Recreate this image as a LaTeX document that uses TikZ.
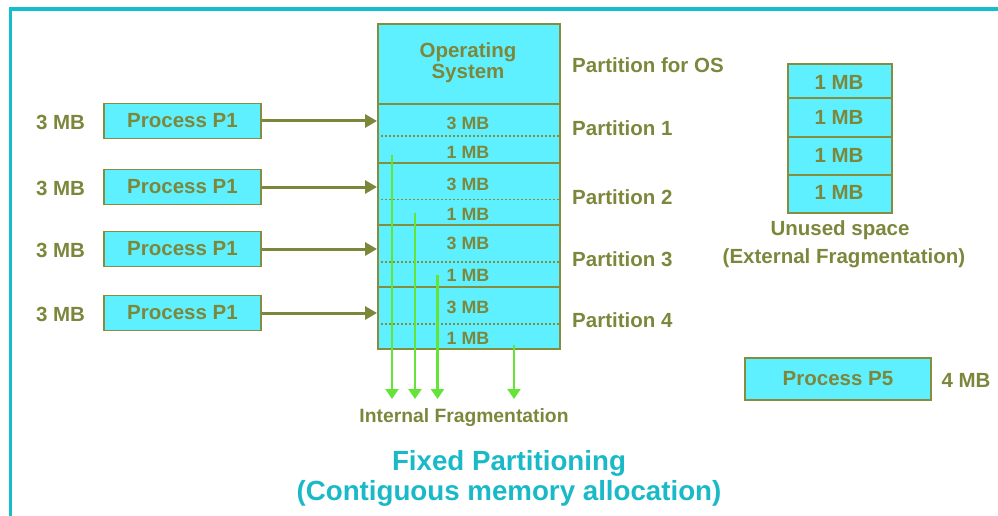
\documentclass[tikz,border=0pt]{standalone}
\usepackage{fontspec}
\setmainfont{Liberation Sans}
\usetikzlibrary{arrows.meta}
\definecolor{olivetxt}{RGB}{125,135,60}
\definecolor{boxline}{RGB}{132,142,62}
\definecolor{cyanfill}{RGB}{95,240,255}
\definecolor{framecol}{RGB}{20,190,205}
\definecolor{titlecol}{RGB}{25,185,200}
\definecolor{fraggreen}{RGB}{100,228,55}
\begin{document}
\begin{tikzpicture}[x=1pt,y=-1pt,
  box/.style={draw=boxline, fill=cyanfill, line width=1.6pt, inner sep=0pt, anchor=north west},
  bigtxt/.style={text=olivetxt, inner sep=0pt, font=\bfseries\fontsize{20.5}{21}\selectfont, align=center},
  memtxt/.style={text=olivetxt, inner sep=0pt, font=\bfseries\fontsize{17.8}{18}\selectfont},
  ttl/.style={text=titlecol, inner sep=0pt, font=\bfseries\fontsize{27.7}{28}\selectfont},
  dotline/.style={draw=boxline, line width=1.1pt, dash pattern=on 2pt off 2pt},
  oarrow/.style={draw=olivetxt, line width=3pt, -{Triangle[length=12pt,width=13pt]}},
  garrow/.style={draw=fraggreen, line width=2.2pt, -{Triangle[length=10pt,width=13pt]}}
]
\useasboundingbox (0,0) rectangle (998,516);
% frame
\draw[framecol, line width=3.5pt] (10.5,516) -- (10.5,9) -- (998,9);

% memory block
\node[box, minimum width=182pt, minimum height=80pt] (os) at (377,23) {};
\node[box, minimum width=182pt, minimum height=59pt] (m1) at (377,103) {};
\node[box, minimum width=182pt, minimum height=62pt] (m2) at (377,162) {};
\node[box, minimum width=182pt, minimum height=62pt] (m3) at (377,224) {};
\node[box, minimum width=182pt, minimum height=62pt] (m4) at (377,286) {};
\node[bigtxt] (ostxt) at (468,63) {Operating\\System};

\draw[dotline] (377,136) -- (559,136);
\draw[dotline] (377,199.5) -- (559,199.5);
\draw[dotline] (377,262) -- (559,262);
\draw[dotline] (377,324) -- (559,324);

\node[memtxt] (m1a) at (468,123) {3 MB};
\node[memtxt] (m1b) at (468,152) {1 MB};
\node[memtxt] (m2a) at (468,184) {3 MB};
\node[memtxt] (m2b) at (468,214) {1 MB};
\node[memtxt] (m3a) at (468,243) {3 MB};
\node[memtxt] (m3b) at (468,275.5) {1 MB};
\node[memtxt] (m4a) at (468,307) {3 MB};
\node[memtxt] (m4b) at (468,338) {1 MB};

% partition labels
\node[bigtxt, anchor=west] (los) at (572,65) {Partition for OS};
\node[bigtxt, anchor=west] (l1) at (572,128) {Partition 1};
\node[bigtxt, anchor=west] (l2) at (572,197) {Partition 2};
\node[bigtxt, anchor=west] (l3) at (572,259) {Partition 3};
\node[bigtxt, anchor=west] (l4) at (572,320) {Partition 4};

% processes
\node[box, anchor=center, minimum width=157pt, minimum height=35pt, bigtxt, text=olivetxt] (pp1) at (182.5,121) {Process P1};
\node[box, anchor=center, minimum width=157pt, minimum height=35pt, bigtxt, text=olivetxt] (pp2) at (182.5,187) {Process P1};
\node[box, anchor=center, minimum width=157pt, minimum height=35pt, bigtxt, text=olivetxt] (pp3) at (182.5,249) {Process P1};
\node[box, anchor=center, minimum width=157pt, minimum height=35pt, bigtxt, text=olivetxt] (pp4) at (182.5,313) {Process P1};
\node[bigtxt] (s1) at (60.5,122) {3 MB};
\node[bigtxt] (s2) at (60.5,188) {3 MB};
\node[bigtxt] (s3) at (60.5,250) {3 MB};
\node[bigtxt] (s4) at (60.5,314) {3 MB};

\draw[oarrow] (pp1.east) -- (pp1.east -| m1.west);
\draw[oarrow] (pp2.east) -- (pp2.east -| m2.west);
\draw[oarrow] (pp3.east) -- (pp3.east -| m3.west);
\draw[oarrow] (pp4.east) -- (pp4.east -| m4.west);

% internal fragmentation arrows
\coordinate (g1s) at (392,155);
\coordinate (g1e) at (392,399);
\coordinate (g2s) at (415,213);
\coordinate (g2e) at (415,399);
\coordinate (g3s) at (437.5,275);
\coordinate (g3e) at (437.5,399);
\coordinate (g4s) at (514,345);
\coordinate (g4e) at (514,399);
\draw[garrow] (g1s) -- (g1e);
\draw[garrow] (g2s) -- (g2e);
\draw[garrow] (g3s) -- (g3e);
\draw[garrow] (g4s) -- (g4e);
\node[bigtxt, font=\bfseries\fontsize{19.3}{20}\selectfont] (intf) at (464,418) {Internal Fragmentation};

% unused blocks
\node[box, minimum width=104pt, minimum height=34.5pt] (u1) at (787,63) {};
\node[box, minimum width=104pt, minimum height=38.5pt] (u2) at (787,97.5) {};
\node[box, minimum width=104pt, minimum height=38pt] (u3) at (787,136) {};
\node[box, minimum width=104pt, minimum height=38pt] (u4) at (787,174) {};
\node[bigtxt] (u1t) at (839,82) {1 MB};
\node[bigtxt] (u2t) at (839,117) {1 MB};
\node[bigtxt] (u3t) at (839,155) {1 MB};
\node[bigtxt] (u4t) at (839,192.5) {1 MB};
\node[bigtxt] (unused) at (840,230) {Unused space};
\node[bigtxt] (extf) at (844,258) {(External Fragmentation)};

% P5
\node[box, anchor=center, minimum width=186pt, minimum height=42pt, bigtxt, text=olivetxt] (p5) at (838,379) {Process P5};
\node[bigtxt] (p5s) at (966,380) {4 MB};

% title
\node[ttl] (t1) at (509,463) {Fixed Partitioning};
\node[ttl] (t2) at (509,493) {(Contiguous memory allocation)};
\end{tikzpicture}
\end{document}
